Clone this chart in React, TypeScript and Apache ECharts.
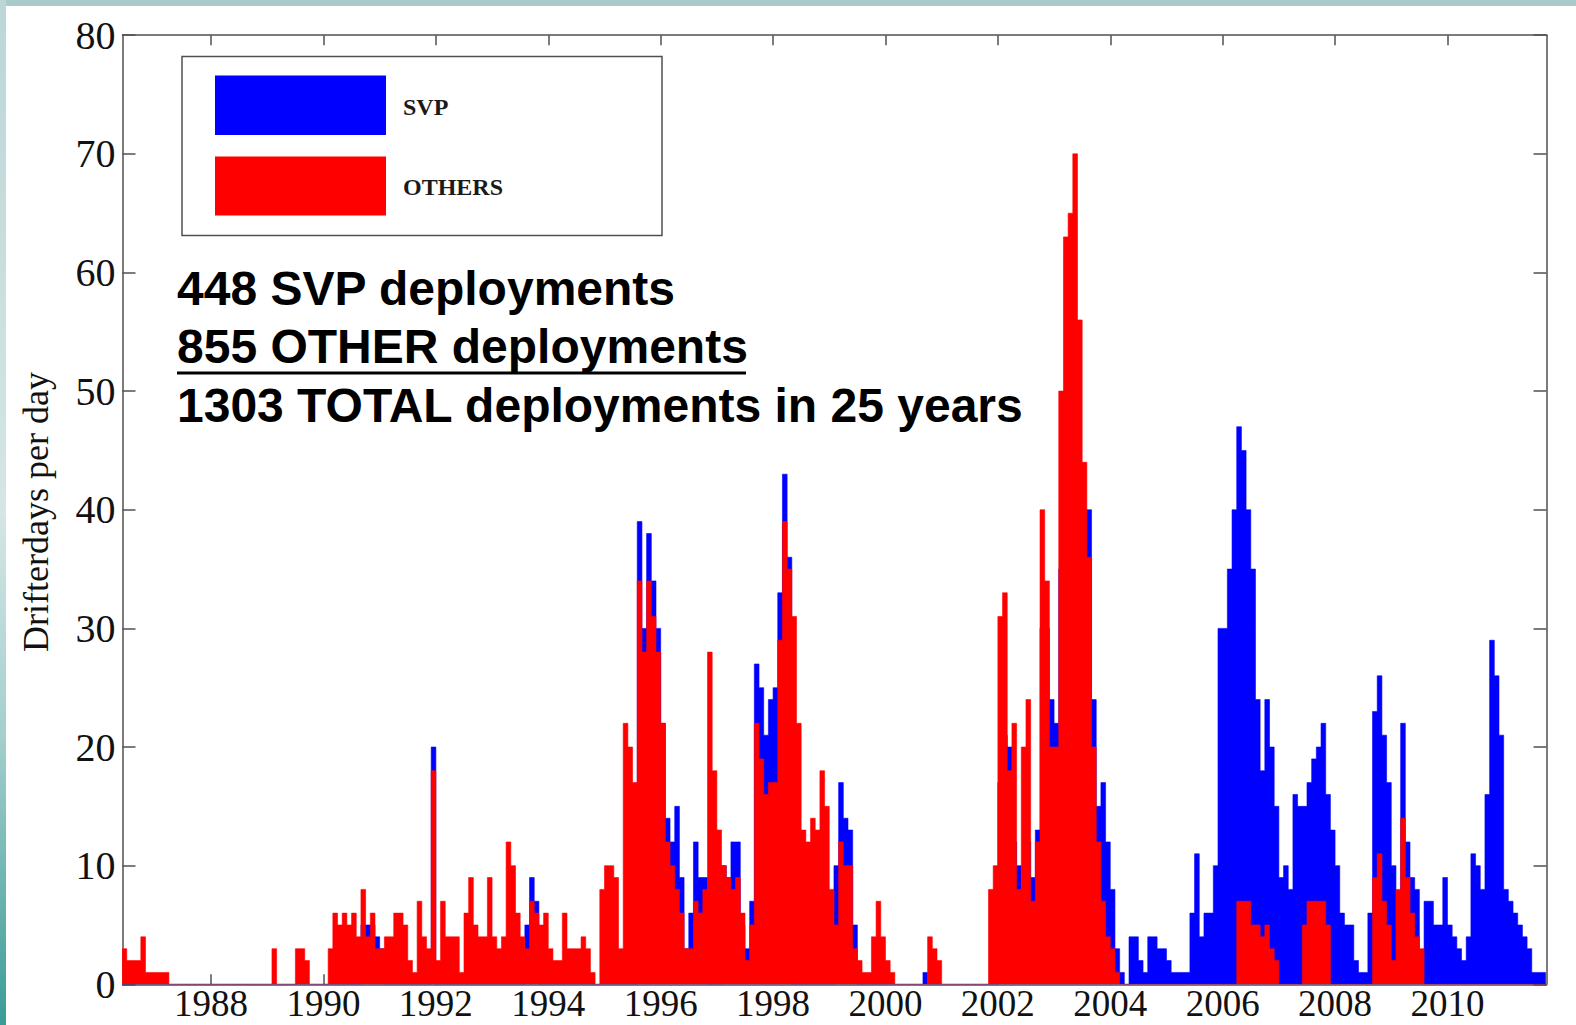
import React, { useEffect, useRef } from "react";
import * as echarts from "echarts";

// Monthly drifter-days-per-day, starting June 1986, ending September 2011
const FIRST_YEAR = 1986;
const FIRST_MONTH = 6;

const othersValues: number[] = [
  // 1986 Jun-Dec
  3, 2, 2, 2, 4, 1, 1,
  // 1987
  1, 1, 1, 0, 0, 0, 0, 0, 0, 0, 0, 0,
  // 1988
  0, 0, 0, 0, 0, 0, 0, 0, 0, 0, 0, 0,
  // 1989
  0, 3, 0, 0, 0, 0, 3, 3, 2, 0, 0, 0,
  // 1990
  0, 3, 6, 5, 6, 5, 6, 4, 8, 4, 6, 3,
  // 1991
  3, 4, 4, 6, 6, 5, 2, 1, 7, 4, 3, 18,
  // 1992
  2, 7, 4, 4, 4, 1, 6, 9, 5, 4, 4, 9,
  // 1993
  4, 3, 4, 12, 10, 6, 4, 3, 7, 6, 5, 6,
  // 1994
  3, 2, 2, 6, 3, 3, 3, 4, 3, 1, 0, 8,
  // 1995
  10, 10, 9, 3, 22, 20, 17, 34, 28, 34, 31, 28,
  // 1996
  22, 12, 10, 8, 6, 3, 3, 7, 6, 8, 28, 18,
  // 1997
  13, 10, 9, 8, 9, 6, 2, 5, 22, 19, 16, 17,
  // 1998
  17, 29, 39, 35, 31, 22, 13, 12, 14, 13, 18, 15,
  // 1999
  8, 5, 12, 10, 10, 3, 2, 1, 1, 4, 7, 4,
  // 2000
  2, 1, 0, 0, 0, 0, 0, 0, 0, 4, 3, 2,
  // 2001
  0, 0, 0, 0, 0, 0, 0, 0, 0, 0, 8, 10,
  // 2002
  31, 33, 18, 22, 8, 20, 24, 7, 12, 40, 34, 20,
  // 2003
  20, 50, 63, 65, 70, 56, 44, 36, 20, 12, 7, 4,
  // 2004
  3, 1, 0, 0, 0, 0, 0, 0, 0, 0, 0, 0,
  // 2005
  0, 0, 0, 0, 0, 0, 0, 0, 0, 0, 0, 0,
  // 2006
  0, 0, 0, 7, 7, 7, 5, 5, 4, 5, 3, 2,
  // 2007
  0, 0, 0, 0, 0, 5, 7, 7, 7, 7, 5, 0,
  // 2008
  0, 0, 0, 0, 0, 0, 0, 0, 9, 11, 7, 5,
  // 2009
  2, 8, 14, 9, 6, 4, 3, 0, 0, 0, 0, 0,
  // 2010
  0, 0, 0, 0, 0, 0, 0, 0, 0, 0, 0, 0,
  // 2011 Jan-Sep
  0, 0, 0, 0, 0, 0, 0, 0, 0,
];

const svpValues: number[] = [
  // 1986 Jun-Dec
  0, 0, 0, 0, 0, 0, 0,
  // 1987
  0, 0, 0, 0, 0, 0, 0, 0, 0, 0, 0, 0,
  // 1988
  0, 0, 0, 0, 0, 0, 0, 0, 0, 0, 0, 0,
  // 1989
  0, 0, 0, 0, 0, 0, 0, 0, 0, 0, 0, 0,
  // 1990
  0, 0, 0, 0, 0, 0, 0, 0, 5, 5, 5, 4,
  // 1991
  3, 0, 0, 0, 0, 0, 0, 0, 0, 0, 0, 20,
  // 1992
  0, 0, 0, 0, 0, 0, 0, 0, 0, 0, 0, 0,
  // 1993
  0, 0, 0, 0, 0, 0, 0, 5, 9, 7, 0, 0,
  // 1994
  0, 0, 0, 0, 0, 0, 0, 0, 0, 0, 0, 0,
  // 1995
  0, 0, 0, 0, 0, 0, 0, 39, 30, 38, 34, 30,
  // 1996
  22, 14, 12, 15, 9, 3, 6, 12, 9, 9, 0, 0,
  // 1997
  0, 10, 9, 12, 12, 5, 3, 7, 27, 25, 21, 24,
  // 1998
  25, 33, 43, 36, 0, 0, 0, 0, 0, 0, 0, 0,
  // 1999
  0, 10, 17, 14, 13, 5, 0, 0, 0, 0, 0, 0,
  // 2000
  0, 0, 0, 0, 0, 0, 0, 0, 1, 0, 0, 0,
  // 2001
  0, 0, 0, 0, 0, 0, 0, 0, 0, 0, 0, 0,
  // 2002
  17, 21, 20, 12, 10, 5, 12, 9, 13, 30, 30, 24,
  // 2003
  22, 35, 45, 50, 46, 44, 40, 40, 24, 15, 17, 12,
  // 2004
  8, 3, 1, 0, 4, 4, 2, 1, 4, 4, 3, 3,
  // 2005
  2, 1, 1, 1, 1, 6, 11, 4, 6, 6, 10, 30,
  // 2006
  30, 35, 40, 47, 45, 40, 35, 24, 18, 24, 20, 15,
  // 2007
  9, 10, 8, 16, 15, 15, 17, 19, 20, 22, 16, 13,
  // 2008
  10, 6, 5, 5, 2, 1, 1, 6, 23, 26, 21, 17,
  // 2009
  10, 5, 22, 12, 9, 8, 2, 7, 7, 5, 5, 9,
  // 2010
  5, 4, 3, 2, 4, 11, 10, 8, 16, 29, 26, 21,
  // 2011 Jan-Sep
  8, 7, 6, 5, 4, 3, 1, 1, 1,
];

const yearTicks: number[] = [1988, 1990, 1992, 1994, 1996, 1998, 2000, 2002, 2004, 2006, 2008, 2010];
const yTicks = { min: 0, max: 80, interval: 10 };
const xRange = { min: 1986.424, max: 2011.762 };

const legendNames = ["SVP", "OTHERS"];
const annotationLines = [
  "448 SVP deployments",
  "855 OTHER deployments",
  "1303 TOTAL deployments in 25 years",
];
const yAxisTitle = "Drifterdays per day";

const BLUE = "#0000ff";
const RED = "#ff0000";
const AXIS = "#505050";
const SERIF = '"Liberation Serif", "Times New Roman", serif';
const SANS = '"Liberation Sans", Arial, sans-serif';

function toSteps(values: number[]): number[][] {
  const t0 = FIRST_YEAR + (FIRST_MONTH - 1) / 12;
  const pts = values.map((v, i) => [t0 + i / 12, v]);
  pts.push([t0 + values.length / 12, values[values.length - 1]]);
  return pts;
}

export default function App() {
  const ref = useRef<HTMLDivElement>(null);

  useEffect(() => {
    document.body.style.margin = "0";
    document.body.style.overflow = "hidden";
    if (!ref.current) return;
    const chart = echarts.init(ref.current, null, { renderer: "svg" });

    const axisLineStyle = { color: AXIS, width: 1.5 };
    const option: any = {
      animation: false,
      backgroundColor: "#ffffff",
      grid: { left: 122.5, top: 35.2, width: 1424, height: 949.1, containLabel: false },
      xAxis: [
        {
          type: "value",
          min: xRange.min,
          max: xRange.max,
          position: "bottom",
          axisLine: { show: true, onZero: false, lineStyle: axisLineStyle },
          axisTick: { show: true, inside: true, length: 10, customValues: yearTicks, lineStyle: axisLineStyle },
          axisLabel: {
            show: true,
            customValues: yearTicks,
            formatter: (v: number) => String(Math.round(v)),
            fontFamily: SERIF,
            fontSize: 37,
            color: "#111",
            margin: 1,
          },
          splitLine: { show: false },
        },
        {
          type: "value",
          min: xRange.min,
          max: xRange.max,
          position: "top",
          axisLine: { show: true, onZero: false, lineStyle: axisLineStyle },
          axisTick: { show: true, inside: true, length: 10, customValues: yearTicks, lineStyle: axisLineStyle },
          axisLabel: { show: false },
          splitLine: { show: false },
        },
      ],
      yAxis: [
        {
          type: "value",
          min: yTicks.min,
          max: yTicks.max,
          interval: yTicks.interval,
          position: "left",
          axisLine: { show: true, lineStyle: axisLineStyle },
          axisTick: { show: true, inside: true, length: 13, lineStyle: axisLineStyle },
          axisLabel: { show: true, fontFamily: SERIF, fontSize: 40, color: "#111", margin: 7 },
          splitLine: { show: false },
        },
        {
          type: "value",
          min: yTicks.min,
          max: yTicks.max,
          interval: yTicks.interval,
          position: "right",
          axisLine: { show: true, lineStyle: axisLineStyle },
          axisTick: { show: true, inside: true, length: 13, lineStyle: axisLineStyle },
          axisLabel: { show: false },
          splitLine: { show: false },
        },
      ],
      series: [
        {
          name: legendNames[0],
          type: "line",
          xAxisIndex: 0,
          yAxisIndex: 0,
          data: toSteps(svpValues),
          step: "end",
          symbol: "none",
          showSymbol: false,
          silent: true,
          lineStyle: { width: 0.6, color: BLUE },
          itemStyle: { color: BLUE },
          areaStyle: { color: BLUE, opacity: 1 },
          z: 2,
        },
        {
          name: legendNames[1],
          type: "line",
          xAxisIndex: 0,
          yAxisIndex: 0,
          data: toSteps(othersValues),
          step: "end",
          symbol: "none",
          showSymbol: false,
          silent: true,
          lineStyle: { width: 0.6, color: RED },
          itemStyle: { color: RED },
          areaStyle: { color: RED, opacity: 1 },
          z: 3,
        },
      ],
      graphic: [
        // slide frame strips
        {
          type: "rect",
          silent: true,
          z: 100,
          shape: { x: 0, y: 0, width: 1576, height: 6 },
          style: { fill: "#a9caca" },
        },
        {
          type: "rect",
          silent: true,
          z: 101,
          shape: { x: 0, y: 0, width: 6, height: 1025 },
          style: {
            fill: new echarts.graphic.LinearGradient(0, 0, 0, 1, [
              { offset: 0, color: "#bcd6d6" },
              { offset: 0.5, color: "#d4e6e5" },
              { offset: 0.72, color: "#a3cfcc" },
              { offset: 1, color: "#3a9b97" },
            ]),
          },
        },
        // legend box
        {
          type: "rect",
          silent: true,
          z: 50,
          shape: { x: 182, y: 56.5, width: 480, height: 179 },
          style: { fill: "#ffffff", stroke: AXIS, lineWidth: 1.5 },
        },
        {
          type: "rect",
          silent: true,
          z: 51,
          shape: { x: 215, y: 75.5, width: 171, height: 59.5 },
          style: { fill: BLUE },
        },
        {
          type: "rect",
          silent: true,
          z: 51,
          shape: { x: 215, y: 156.5, width: 171, height: 59 },
          style: { fill: RED },
        },
        {
          type: "text",
          silent: true,
          z: 52,
          x: 403,
          y: 107,
          style: {
            text: legendNames[0],
            font: `bold 24px ${SERIF}`,
            fill: "#1a1a1a",
            align: "left",
            textAlign: "left",
            verticalAlign: "middle",
            textVerticalAlign: "middle",
          },
        },
        {
          type: "text",
          silent: true,
          z: 52,
          x: 403,
          y: 187,
          style: {
            text: legendNames[1],
            font: `bold 24px ${SERIF}`,
            fill: "#1a1a1a",
            align: "left",
            textAlign: "left",
            verticalAlign: "middle",
            textVerticalAlign: "middle",
          },
        },
        // annotation lines
        ...annotationLines.map((t, i) => ({
          type: "text",
          silent: true,
          z: 60,
          x: 177,
          y: 288.5 + i * 58.3,
          style: {
            text: t,
            font: `bold 48px ${SANS}`,
            fill: "#000000",
            align: "left",
            textAlign: "left",
            verticalAlign: "middle",
            textVerticalAlign: "middle",
          },
        })),
        {
          type: "rect",
          silent: true,
          z: 60,
          shape: { x: 177, y: 371.5, width: 569, height: 3 },
          style: { fill: "#000000" },
        },
        // y axis title
        {
          type: "text",
          silent: true,
          z: 60,
          x: 36,
          y: 512,
          rotation: Math.PI / 2,
          style: {
            text: yAxisTitle,
            font: `36px ${SERIF}`,
            fill: "#111",
            align: "center",
            textAlign: "center",
            verticalAlign: "middle",
            textVerticalAlign: "middle",
          },
        },
      ],
    };

    chart.setOption(option);
    return () => {
      chart.dispose();
    };
  }, []);

  return <div ref={ref} style={{ width: 1576, height: 1025 }} />;
}
